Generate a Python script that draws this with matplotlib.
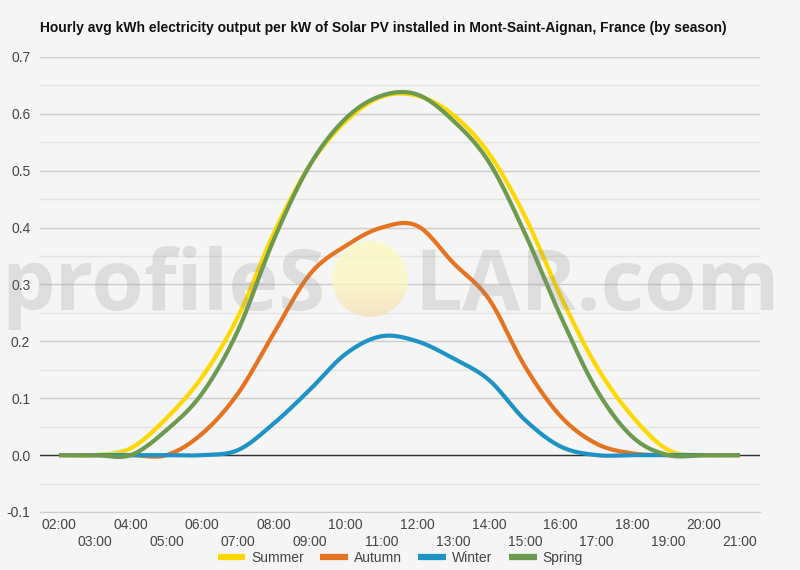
import numpy as np
import matplotlib
matplotlib.use("Agg")
import matplotlib.pyplot as plt
from matplotlib.patches import Circle

plt.rcParams["font.family"] = ["Liberation Sans", "DejaVu Sans"]

hours = list(range(2, 22))
tick_labels = [f"{h:02d}:00" for h in hours]
summer = [0, 0, 0.012, 0.065, 0.138, 0.244, 0.391, 0.510, 0.587, 0.630, 0.632, 0.598, 0.530, 0.420, 0.279, 0.156, 0.068, 0.009, 0, 0]
autumn = [0, 0, 0, 0, 0.038, 0.109, 0.215, 0.318, 0.368, 0.400, 0.403, 0.338, 0.274, 0.156, 0.068, 0.020, 0.003, 0, 0, 0]
winter = [0, 0, 0, 0, 0, 0.009, 0.056, 0.115, 0.178, 0.209, 0.200, 0.170, 0.132, 0.062, 0.015, 0, 0, 0, 0, 0]
spring = [0, 0, 0, 0.044, 0.109, 0.220, 0.380, 0.510, 0.592, 0.632, 0.634, 0.588, 0.515, 0.390, 0.244, 0.115, 0.032, 0, 0, 0]

series = [("Summer", summer, "#ffd800"),
          ("Autumn", autumn, "#e5731f"),
          ("Winter", winter, "#1f93c5"),
          ("Spring", spring, "#6c9a4f")]

def catmull_rom(x, y, n=24):
    x = np.asarray(x, float); y = np.asarray(y, float)
    xs, ys = [], []
    m = len(x)
    for i in range(m - 1):
        y0 = y[i - 1] if i > 0 else y[i]
        y3 = y[i + 2] if i + 2 < m else y[i + 1]
        m1 = (y[i + 1] - y0) / 2.0
        m2 = (y3 - y[i]) / 2.0
        t = np.linspace(0, 1, n, endpoint=False)
        h00 = 2*t**3 - 3*t**2 + 1
        h10 = t**3 - 2*t**2 + t
        h01 = -2*t**3 + 3*t**2
        h11 = t**3 - t**2
        xs.append(x[i] + t*(x[i+1]-x[i]))
        ys.append(h00*y[i] + h10*m1 + h01*y[i+1] + h11*m2)
    xs.append([x[-1]]); ys.append([y[-1]])
    return np.concatenate(xs), np.concatenate(ys)

BG = "#f5f5f5"
fig = plt.figure(figsize=(8, 5.7), dpi=100, facecolor=BG)
ax = fig.add_axes([0.05, 0.1018, 0.90, 0.7982])
ax.set_facecolor(BG)

for name, vals, col in series:
    xs, ys = catmull_rom(hours, vals)
    ax.plot(xs, ys, color=col, lw=3.0, label=name, solid_capstyle="butt", zorder=3)

ax.set_xlim(1.47, 21.56)
ax.set_ylim(-0.1, 0.7)
ax.set_yticks(np.arange(-0.1, 0.71, 0.1))
ax.set_yticklabels([f"{v:.1f}" for v in np.arange(-0.1, 0.71, 0.1)])
ax.set_yticks(np.arange(-0.05, 0.7, 0.1), minor=True)
ax.grid(axis="y", which="major", color="#cccccc", lw=1.0, zorder=0)
ax.grid(axis="y", which="minor", color="#e4e4e4", lw=1.0, zorder=0)
ax.axhline(0, color="#333333", lw=1.0, zorder=2)
ax.set_xticks(hours)
ax.set_xticklabels([lab if i % 2 == 0 else "\n" + lab for i, lab in enumerate(tick_labels)])
for s in ["top", "right", "left"]:
    ax.spines[s].set_visible(False)
ax.spines["bottom"].set_color("#cccccc")
ax.tick_params(axis="both", which="both", length=0, labelsize=10, labelcolor="#444444")
ax.tick_params(axis="x", pad=4)
ax.tick_params(axis="y", pad=7)
for t in ax.get_xticklabels():
    t.set_linespacing(1.3)

fig.text(0.05, 1 - 28/570, "Hourly avg kWh electricity output per kW of Solar PV installed in Mont-Saint-Aignan, France (by season)",
         fontsize=10, fontweight="bold", color="#111111", va="center", ha="left")

leg = fig.legend(loc="center", bbox_to_anchor=(0.5, 1 - 558/570), ncol=4, frameon=False,
                 fontsize=10, handlelength=2.0, columnspacing=1.2, handletextpad=0.4)
for t in leg.get_texts():
    t.set_color("#444444")
for h in leg.get_lines():
    h.set_linewidth(4.5)

# watermark overlay
ov = fig.add_axes([0, 0, 1, 1], zorder=10)
ov.set_xlim(0, 800); ov.set_ylim(570, 0)
ov.axis("off"); ov.patch.set_alpha(0)
ov.text(326, 310, "profileS", fontsize=61, fontweight="bold", family="Open Sans",
        color="#888888", alpha=0.22, ha="right", va="baseline")
ov.text(414, 310, "LAR.com", fontsize=61, fontweight="bold", family="Open Sans",
        color="#888888", alpha=0.22, ha="left", va="baseline")
grad = np.linspace(0, 1, 100)[:, None]
cols = np.zeros((100, 1, 4))
c1 = np.array([0.99, 0.98, 0.75]); c2 = np.array([0.98, 0.87, 0.72])
w = np.clip((grad - 0.5) * 2, 0, 1)
cols[..., :3] = c1 * (1 - w[..., None]) + c2 * w[..., None]
cols[..., 3] = 0.75
im = ov.imshow(cols, extent=(332, 408, 317, 241), aspect="auto", zorder=1)
circ = Circle((370, 279), 38, transform=ov.transData)
im.set_clip_path(circ)

fig.savefig("out.png", dpi=100, facecolor=BG)
